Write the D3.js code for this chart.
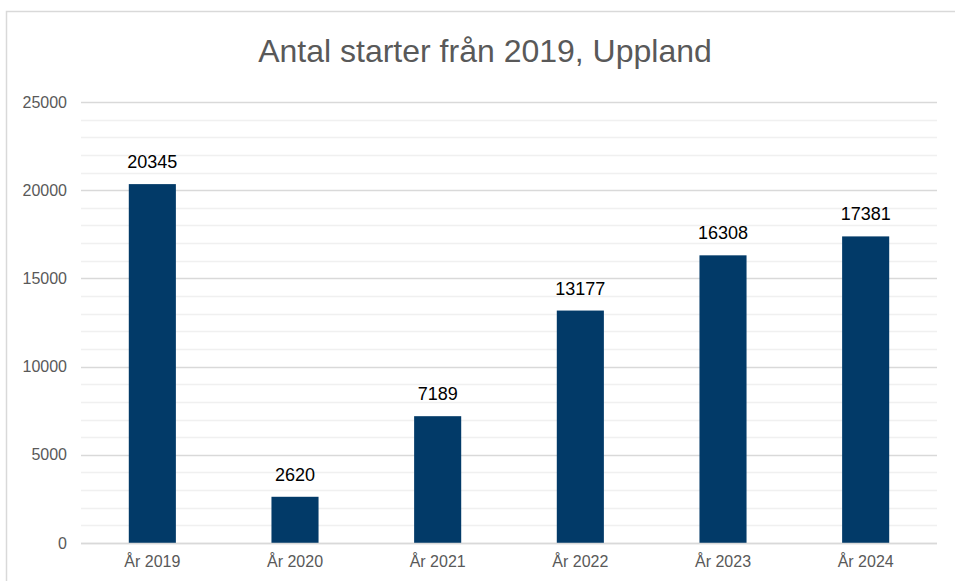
<!DOCTYPE html>
<html>
<head>
<meta charset="utf-8">
<script src="https://cdn.jsdelivr.net/npm/d3@7"></script>
<style>
  body { margin: 0; background: #fff; }
  svg { display: block; font-family: "Liberation Sans", Arial, sans-serif; }
</style>
</head>
<body>
<div id="chart"></div>
<script>
// Chart data
const categories = ['År 2019', 'År 2020', 'År 2021', 'År 2022', 'År 2023', 'År 2024'];
const values = [20345, 2620, 7189, 13177, 16308, 17381];
const majorTicks = [0, 5000, 10000, 15000, 20000, 25000];
const chartTitle = 'Antal starter från 2019, Uppland';

const width = 955;
const height = 581;
const plot = { left: 81, right: 937, top: 102, bottom: 543 };

const svg = d3.select('#chart')
  .append('svg')
  .attr('width', width)
  .attr('height', height);

// Outer chart border (extends past right/bottom like the original crop)
svg.append('rect')
  .attr('x', 6.5)
  .attr('y', 11.5)
  .attr('width', 1000)
  .attr('height', 700)
  .attr('fill', '#fff')
  .attr('stroke', '#d9d9d9')
  .attr('stroke-width', 1.5);

const x = d3.scaleBand()
  .domain(categories)
  .range([plot.left, plot.right])
  .paddingInner(0.67)
  .paddingOuter(0.335);

const y = d3.scaleLinear()
  .domain([0, 25000])
  .range([plot.bottom, plot.top]);

// Minor gridlines every 1000
const minor = d3.range(1000, 25000, 1000).filter(v => v % 5000 !== 0);
svg.append('g')
  .selectAll('line')
  .data(minor)
  .join('line')
  .attr('x1', plot.left)
  .attr('x2', plot.right)
  .attr('y1', d => Math.round(y(d)) + 0.5)
  .attr('y2', d => Math.round(y(d)) + 0.5)
  .attr('stroke', '#f0f0f0')
  .attr('stroke-width', 1.5);

// Major gridlines
svg.append('g')
  .selectAll('line')
  .data(majorTicks)
  .join('line')
  .attr('x1', plot.left)
  .attr('x2', plot.right)
  .attr('y1', d => Math.round(y(d)) + 0.5)
  .attr('y2', d => Math.round(y(d)) + 0.5)
  .attr('stroke', '#d9d9d9')
  .attr('stroke-width', 1.5);

// Y axis labels
const yAxis = d3.axisLeft(y)
  .tickValues(majorTicks)
  .tickFormat(d3.format('d'))
  .tickSize(0)
  .tickPadding(0);

svg.append('g')
  .attr('transform', `translate(${plot.left - 14}, 0)`)
  .call(yAxis)
  .call(g => g.select('.domain').remove())
  .call(g => g.selectAll('text')
    .attr('font-size', '16px')
    .attr('font-family', '"Liberation Sans", Arial, sans-serif')
    .attr('fill', '#595959'));

// Bars
svg.append('g')
  .selectAll('rect')
  .data(values)
  .join('rect')
  .attr('x', (d, i) => x(categories[i]))
  .attr('y', d => y(d))
  .attr('width', x.bandwidth())
  .attr('height', d => plot.bottom - y(d))
  .attr('fill', '#023a68');

// Redraw baseline on top
svg.append('line')
  .attr('x1', plot.left)
  .attr('x2', plot.right)
  .attr('y1', plot.bottom + 0.5)
  .attr('y2', plot.bottom + 0.5)
  .attr('stroke', '#d9d9d9')
  .attr('stroke-width', 1.5);

// Value labels
svg.append('g')
  .selectAll('text')
  .data(values)
  .join('text')
  .attr('x', (d, i) => x(categories[i]) + x.bandwidth() / 2)
  .attr('y', d => y(d) - 16)
  .attr('text-anchor', 'middle')
  .attr('font-size', '18px')
  .attr('fill', '#000')
  .text(d => d);

// X axis labels
const xAxis = d3.axisBottom(x).tickSize(0).tickPadding(0);
svg.append('g')
  .attr('transform', `translate(0, ${plot.bottom + 13})`)
  .call(xAxis)
  .call(g => g.select('.domain').remove())
  .call(g => g.selectAll('text')
    .attr('font-size', '16px')
    .attr('font-family', '"Liberation Sans", Arial, sans-serif')
    .attr('fill', '#595959'));

// Title
svg.append('text')
  .attr('x', 485)
  .attr('y', 62)
  .attr('text-anchor', 'middle')
  .attr('font-size', '32px')
  .attr('fill', '#595959')
  .text(chartTitle);
</script>
</body>
</html>
